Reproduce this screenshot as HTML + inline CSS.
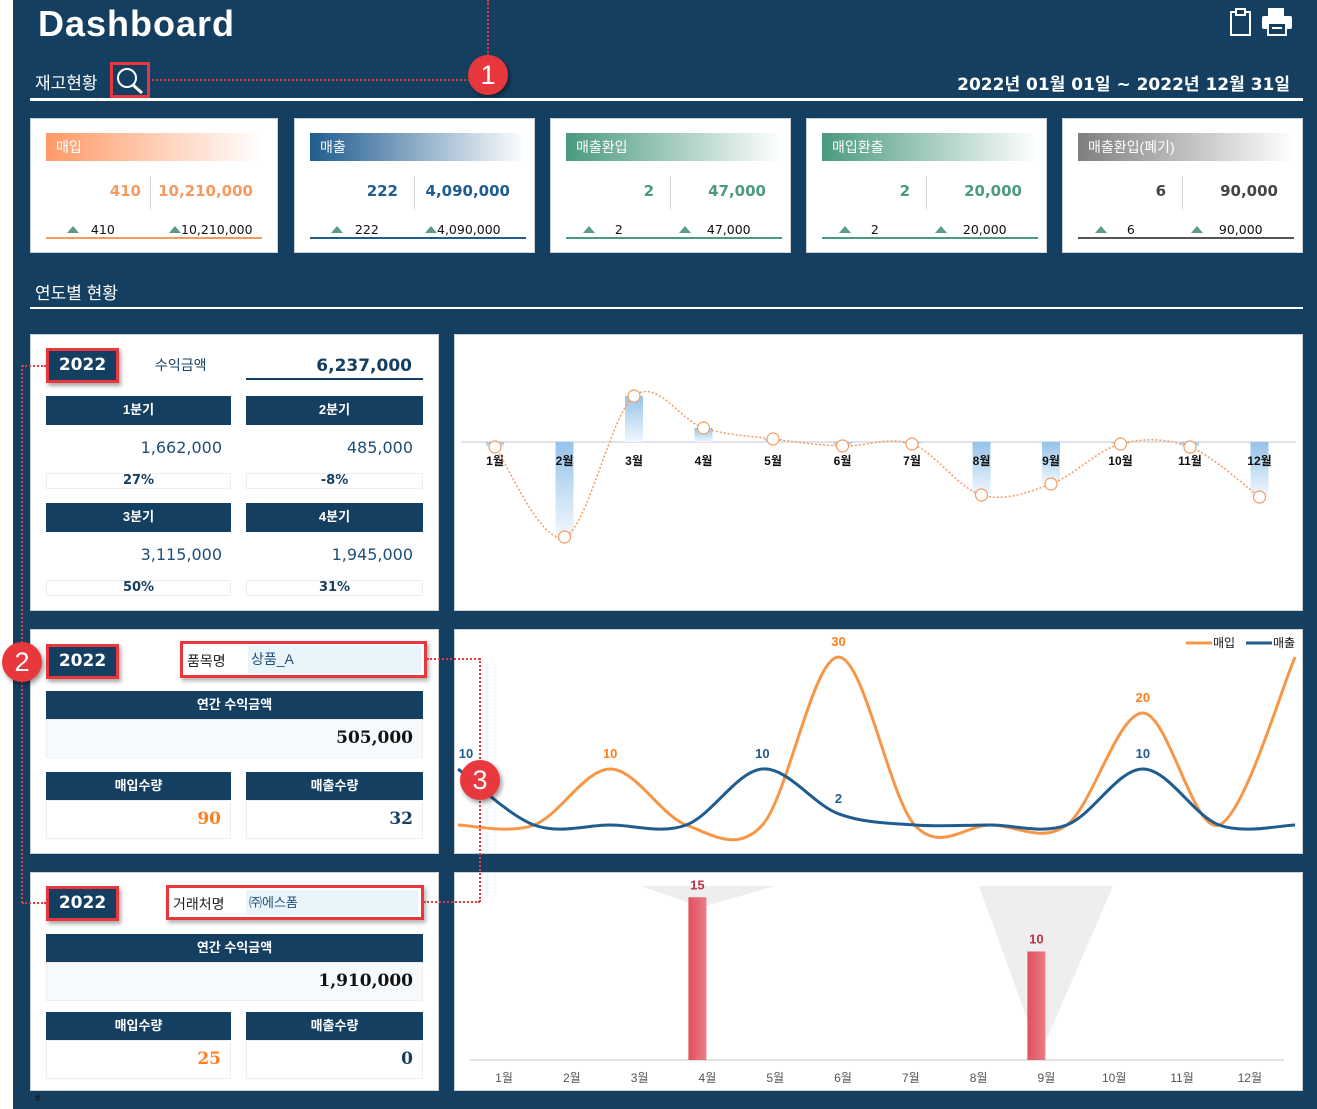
<!DOCTYPE html>
<html><head><meta charset="utf-8">
<style>
*{margin:0;padding:0;box-sizing:border-box}
body{width:1317px;height:1109px;background:#fff;position:relative;overflow:hidden;font-family:"Liberation Sans","Noto Sans CJK KR",sans-serif}
.bg{position:absolute;left:13px;top:0;width:1304px;height:1109px;background:#153f61}
.a{position:absolute}
.card{position:absolute;background:#fff;border:1px solid #c9d2da}
.hd{position:absolute;left:15px;top:14px;height:28px;width:216px;color:#fff;font-size:14px;line-height:28px;padding-left:10px}
.num{font-family:"DejaVu Sans","Noto Sans CJK KR",sans-serif;font-weight:bold}
.v1,.v2{position:absolute;top:63px;font-size:15px;text-align:right}
.dv{position:absolute;left:119px;top:57px;width:1px;height:33px;background:#d5d5d5}
.bt{position:absolute;top:103px;font-size:12.5px;color:#111;font-family:"DejaVu Sans",sans-serif}
.tri{display:inline-block;width:0;height:0;border-left:6px solid transparent;border-right:6px solid transparent;border-bottom:7px solid #5a9b82;vertical-align:1px}
.ln{position:absolute;left:15px;top:118px;width:216px;height:1.5px}
.panel{position:absolute;background:#fff;border:1px solid #c9d2da}
.dk{position:absolute;background:#153f61;color:#fff;font-size:13px;font-weight:bold;text-align:center}
.yr{position:absolute;background:#153f61;color:#fff;font-size:17px;text-align:center;border:3px solid #e8383d;box-shadow:2px 3px 4px rgba(0,0,0,.35);font-family:"DejaVu Sans",sans-serif;font-weight:bold}
.pc{position:absolute;border:1px solid #eee;font-size:13px;text-align:center;color:#153f61;font-weight:bold;font-family:"DejaVu Sans",sans-serif;line-height:14px}
.qv{position:absolute;font-size:16px;color:#1f4e79;text-align:right;font-family:"DejaVu Sans",sans-serif}
.vb{position:absolute;border:1px solid #eee;background:#fff}
.circ{position:absolute;width:40px;height:40px;border-radius:50%;background:#e8383d;color:#fff;font-size:27px;text-align:center;line-height:40px;box-shadow:2px 3px 5px rgba(0,0,0,.4)}
.dotH{position:absolute;height:0;border-top:2px dotted #e8383d}
.dotV{position:absolute;width:0;border-left:2px dotted #e8383d}
</style></head><body>
<div class="bg"></div>
<div class="a" style="left:38px;top:3px;color:#fff;font-size:36px;font-weight:bold;letter-spacing:1px;">Dashboard</div>
<svg class="a" style="left:1229px;top:8px" width="24" height="28" viewBox="0 0 24 28"><rect x="2" y="4" width="19" height="23" fill="none" stroke="#fff" stroke-width="2"/><rect x="7" y="1" width="9" height="6" fill="#153f61" stroke="#fff" stroke-width="2"/></svg>
<svg class="a" style="left:1261px;top:7px" width="32" height="29" viewBox="0 0 32 29"><rect x="7" y="1" width="16" height="9" fill="#fff"/><rect x="1" y="9" width="30" height="13" rx="2" fill="#fff"/><rect x="7" y="16" width="18" height="12" fill="#153f61" stroke="#fff" stroke-width="2"/><line x1="11" y1="21" x2="21" y2="21" stroke="#fff" stroke-width="2"/></svg>
<div class="a" style="left:35px;top:69px;color:#fff;font-size:17px">재고현황</div>
<div class="a" style="left:110px;top:62px;width:40px;height:36px;border:3px solid #e8383d;">
<svg width="34" height="30" viewBox="0 0 34 30"><circle cx="14" cy="13" r="9" fill="none" stroke="#fff" stroke-width="2"/><line x1="20" y1="20" x2="29" y2="28" stroke="#fff" stroke-width="3"/></svg></div>
<div class="dotH" style="left:152px;top:79px;width:318px"></div>
<div class="dotV" style="left:487px;top:0;height:56px"></div>
<div class="circ" style="left:468px;top:55px">1</div>
<div class="a" style="right:27px;top:70px;color:#fff;font-size:17px;font-weight:bold;font-family:'DejaVu Sans','Noto Sans CJK KR',sans-serif">2022년 01월 01일 ~ 2022년 12월 31일</div>
<div class="a" style="left:30px;top:98px;width:1273px;height:3px;background:#fff"></div>

<!-- KPI cards -->
<div class="card" style="left:30px;top:118px;width:248px;height:135px">
 <div class="hd" style="background:linear-gradient(90deg,#ff9a66,#fff)">매입</div>
 <div class="v1 num" style="right:136px;color:#f79a60">410</div>
 <div class="dv"></div>
 <div class="v2 num" style="right:24px;color:#f79a60">10,210,000</div>
 <div class="bt" style="left:36px"><span class="tri"></span>&nbsp;&nbsp;&nbsp;410</div>
 <div class="bt" style="left:138px"><span class="tri"></span>10,210,000</div>
 <div class="ln" style="background:#f79a60"></div>
</div>
<div class="card" style="left:294px;top:118px;width:241px;height:135px">
 <div class="hd" style="background:linear-gradient(90deg,#1f5c8f,#fff)">매출</div>
 <div class="v1 num" style="right:136px;color:#1f5c8f">222</div>
 <div class="dv"></div>
 <div class="v2 num" style="right:24px;color:#1f5c8f">4,090,000</div>
 <div class="bt" style="left:36px"><span class="tri"></span>&nbsp;&nbsp;&nbsp;222</div>
 <div class="bt" style="left:130px"><span class="tri"></span>4,090,000</div>
 <div class="ln" style="background:#1f5c8f"></div>
</div>
<div class="card" style="left:550px;top:118px;width:241px;height:135px">
 <div class="hd" style="background:linear-gradient(90deg,#4a9a7e,#fff)">매출환입</div>
 <div class="v1 num" style="right:136px;color:#4a9a7e">2</div>
 <div class="dv"></div>
 <div class="v2 num" style="right:24px;color:#4a9a7e">47,000</div>
 <div class="bt" style="left:32px"><span class="tri"></span>&nbsp;&nbsp;&nbsp;&nbsp;&nbsp;2</div>
 <div class="bt" style="left:128px"><span class="tri"></span>&nbsp;&nbsp;&nbsp;&nbsp;47,000</div>
 <div class="ln" style="background:#4a9a7e"></div>
</div>
<div class="card" style="left:806px;top:118px;width:241px;height:135px">
 <div class="hd" style="background:linear-gradient(90deg,#4a9a7e,#fff)">매입환출</div>
 <div class="v1 num" style="right:136px;color:#4a9a7e">2</div>
 <div class="dv"></div>
 <div class="v2 num" style="right:24px;color:#4a9a7e">20,000</div>
 <div class="bt" style="left:32px"><span class="tri"></span>&nbsp;&nbsp;&nbsp;&nbsp;&nbsp;2</div>
 <div class="bt" style="left:128px"><span class="tri"></span>&nbsp;&nbsp;&nbsp;&nbsp;20,000</div>
 <div class="ln" style="background:#4a9a7e"></div>
</div>
<div class="card" style="left:1062px;top:118px;width:241px;height:135px">
 <div class="hd" style="background:linear-gradient(90deg,#7f7f7f,#fff)">매출환입(폐기)</div>
 <div class="v1 num" style="right:136px;color:#444">6</div>
 <div class="dv"></div>
 <div class="v2 num" style="right:24px;color:#444">90,000</div>
 <div class="bt" style="left:32px"><span class="tri"></span>&nbsp;&nbsp;&nbsp;&nbsp;&nbsp;6</div>
 <div class="bt" style="left:128px"><span class="tri"></span>&nbsp;&nbsp;&nbsp;&nbsp;90,000</div>
 <div class="ln" style="background:#555"></div>
</div>

<div class="a" style="left:35px;top:279px;color:#fff;font-size:17px">연도별 현황</div>
<div class="a" style="left:30px;top:307px;width:1273px;height:2px;background:#fff"></div>

<!-- Panel 1 -->
<div class="panel" style="left:30px;top:334px;width:409px;height:277px"></div>
<div class="yr" style="left:46px;top:348px;width:73px;height:35px;line-height:29px">2022</div>
<div class="a" style="left:155px;top:355px;font-size:14px;color:#153f61">수익금액</div>
<div class="a num" style="right:905px;top:356px;font-size:17px;color:#153f61">6,237,000</div>
<div class="a" style="left:246px;top:378px;width:177px;height:2px;background:#153f61"></div>
<div class="dk" style="left:46px;top:396px;width:185px;height:29px;line-height:28px">1분기</div>
<div class="dk" style="left:246px;top:396px;width:177px;height:29px;line-height:28px">2분기</div>
<div class="qv" style="right:1095px;top:438px">1,662,000</div>
<div class="qv" style="right:904px;top:438px">485,000</div>
<div class="pc" style="left:46px;top:473px;width:185px;height:16px">27%</div>
<div class="pc" style="left:246px;top:473px;width:177px;height:16px">-8%</div>
<div class="dk" style="left:46px;top:503px;width:185px;height:29px;line-height:28px">3분기</div>
<div class="dk" style="left:246px;top:503px;width:177px;height:29px;line-height:28px">4분기</div>
<div class="qv" style="right:1095px;top:545px">3,115,000</div>
<div class="qv" style="right:904px;top:545px">1,945,000</div>
<div class="pc" style="left:46px;top:580px;width:185px;height:16px">50%</div>
<div class="pc" style="left:246px;top:580px;width:177px;height:16px">31%</div>

<!-- Panel 2 -->
<div class="panel" style="left:30px;top:629px;width:409px;height:225px"></div>
<div class="yr" style="left:46px;top:644px;width:73px;height:35px;line-height:29px">2022</div>
<div class="a" style="left:180px;top:641px;width:247px;height:37px;border:3px solid #e8383d;box-shadow:2px 3px 4px rgba(0,0,0,.3);background:#fff">
 <div class="a" style="left:4px;top:7px;font-size:14px;color:#222">품목명</div>
 <div class="a" style="left:65px;top:2px;width:173px;height:27px;background:#eaf4fb;font-size:14px;color:#1f4e79;line-height:27px;padding-left:3px">상품_A</div>
</div>
<div class="dk" style="left:46px;top:691px;width:377px;height:28px;line-height:27px">연간 수익금액</div>
<div class="vb" style="left:46px;top:719px;width:377px;height:39px;background:#f7fafc"></div>
<div class="a" style="right:904px;top:728px;font-size:17px;font-weight:bold;font-family:'DejaVu Serif',serif;color:#111">505,000</div>
<div class="dk" style="left:46px;top:772px;width:185px;height:28px;line-height:27px">매입수량</div>
<div class="dk" style="left:246px;top:772px;width:177px;height:28px;line-height:27px">매출수량</div>
<div class="vb" style="left:46px;top:800px;width:185px;height:39px"></div>
<div class="vb" style="left:246px;top:800px;width:177px;height:39px"></div>
<div class="a" style="right:1096px;top:809px;font-size:17px;font-weight:bold;font-family:'DejaVu Serif',serif;color:#ff7f1e">90</div>
<div class="a" style="right:904px;top:809px;font-size:17px;font-weight:bold;font-family:'DejaVu Serif',serif;color:#153f61">32</div>

<!-- Panel 3 -->
<div class="panel" style="left:30px;top:872px;width:409px;height:219px"></div>
<div class="yr" style="left:46px;top:886px;width:73px;height:35px;line-height:29px">2022</div>
<div class="a" style="left:166px;top:885px;width:258px;height:35px;border:3px solid #e8383d;box-shadow:2px 3px 4px rgba(0,0,0,.3);background:#fff">
 <div class="a" style="left:4px;top:6px;font-size:14px;color:#222">거래처명</div>
 <div class="a" style="left:77px;top:2px;width:172px;height:25px;background:#eaf4fb;font-size:13px;color:#1f4e79;line-height:25px;padding-left:3px">㈜에스폼</div>
</div>
<div class="dk" style="left:46px;top:934px;width:377px;height:28px;line-height:27px">연간 수익금액</div>
<div class="vb" style="left:46px;top:962px;width:377px;height:39px;background:#f7fafc"></div>
<div class="a" style="right:904px;top:971px;font-size:17px;font-weight:bold;font-family:'DejaVu Serif',serif;color:#111">1,910,000</div>
<div class="dk" style="left:46px;top:1012px;width:185px;height:28px;line-height:27px">매입수량</div>
<div class="dk" style="left:246px;top:1012px;width:177px;height:28px;line-height:27px">매출수량</div>
<div class="vb" style="left:46px;top:1040px;width:185px;height:39px"></div>
<div class="vb" style="left:246px;top:1040px;width:177px;height:39px"></div>
<div class="a" style="right:1096px;top:1049px;font-size:17px;font-weight:bold;font-family:'DejaVu Serif',serif;color:#ff7f1e">25</div>
<div class="a" style="right:904px;top:1049px;font-size:17px;font-weight:bold;font-family:'DejaVu Serif',serif;color:#153f61">0</div>
<div class="a" style="left:35px;top:1093px;font-size:10px;color:#111">#</div>

<!-- Chart panels -->
<div class="panel" style="left:454px;top:334px;width:849px;height:277px"></div>
<div class="panel" style="left:454px;top:629px;width:849px;height:225px"></div>
<div class="panel" style="left:454px;top:872px;width:849px;height:219px"></div>
<svg id="charts" class="a" style="left:0;top:0" width="1317" height="1109">
<defs>
<linearGradient id="gb" x1="0" y1="0" x2="0" y2="1"><stop offset="0" stop-color="#94c3ea"/><stop offset="1" stop-color="#f2f8fd"/></linearGradient>
<linearGradient id="gr" x1="0" y1="0" x2="1" y2="0"><stop offset="0" stop-color="#e0505e"/><stop offset="1" stop-color="#ea7d85"/></linearGradient>
</defs>
</svg>

<!-- callouts -->
<div class="dotH" style="left:22px;top:365px;width:24px"></div>
<div class="dotV" style="left:21px;top:365px;height:538px"></div>
<div class="dotH" style="left:22px;top:902px;width:24px"></div>
<div class="circ" style="left:2px;top:642px">2</div>
<div class="dotH" style="left:427px;top:658px;width:53px"></div>
<div class="dotV" style="left:479px;top:658px;height:244px"></div>
<div class="dotH" style="left:424px;top:901px;width:56px"></div>
<div class="circ" style="left:460px;top:760px">3</div>

<script>
const months=['1월','2월','3월','4월','5월','6월','7월','8월','9월','10월','11월','12월'];
const profitByMonth=[-50,-950,460,140,30,-40,-20,-530,-420,-20,-50,-550];
const purchaseQty=[0,0,10,0,0,30,0,0,0,20,0,30];
const salesQty=[10,0,0,0,10,2,0,0,0,10,0,0];
const customerQty=[0,0,0,15,0,0,0,0,10,0,0,0];
const NS='http://www.w3.org/2000/svg';
const svg=document.getElementById('charts');
function mk(tag,attrs,parent){const e=document.createElementNS(NS,tag);for(const k in attrs)e.setAttribute(k,attrs[k]);(parent||svg).appendChild(e);return e;}
function spline(pts){let d='M'+pts[0][0]+','+pts[0][1];for(let i=0;i<pts.length-1;i++){const p0=pts[Math.max(0,i-1)],p1=pts[i],p2=pts[i+1],p3=pts[Math.min(pts.length-1,i+2)];const c1x=p1[0]+(p2[0]-p0[0])/6,c1y=p1[1]+(p2[1]-p0[1])/6,c2x=p2[0]-(p3[0]-p1[0])/6,c2y=p2[1]-(p3[1]-p1[1])/6;d+=' C'+c1x+','+c1y+' '+c2x+','+c2y+' '+p2[0]+','+p2[1];}return d;}

// Chart 1
const x1=i=>495+i*69.5, y1=v=>442-v*0.1;
const ax1=mk('line',{x1:461,x2:1296,y1:442,y2:442,stroke:'#d8d8e4','stroke-width':1.5});


profitByMonth.forEach((v,i)=>{
 const top=Math.min(y1(v),442),h=Math.abs(y1(v)-442);
 const b=mk('rect',{x:x1(i)-9,y:top,width:18,height:Math.max(h,2),fill:'url(#gb)'});
 
 
 const t=mk('text',{x:x1(i),y:465,'text-anchor':'middle','font-size':12,'font-weight':'bold',fill:'#111'});
 t.textContent=months[i];
 
 
});
const p1=mk('path',{d:spline(profitByMonth.map((v,i)=>[x1(i),y1(v)])),fill:'none',stroke:'#f79a60','stroke-width':1.5,'stroke-dasharray':'2,2'});


profitByMonth.forEach((v,i)=>{
 const c=mk('circle',{cx:x1(i),cy:y1(v),r:6,fill:'#fff',stroke:'#f79a60','stroke-width':1.2});
 
 
});

// Chart 2
const x2=i=>458+i*76.1, y2=v=>825-v*5.6;
const lo=mk('path',{d:spline(purchaseQty.map((v,i)=>[x2(i),y2(v)])),fill:'none',stroke:'#f79646','stroke-width':3});


const lb=mk('path',{d:spline(salesQty.map((v,i)=>[x2(i),y2(v)])),fill:'none',stroke:'#1f5c8f','stroke-width':3});


purchaseQty.forEach((v,i)=>{if(v>0&&i<11){const t=mk('text',{x:x2(i),y:y2(v)-11,'text-anchor':'middle','font-size':13,'font-weight':'bold',fill:'#ff7f1e'});t.textContent=v;
 
 }});
salesQty.forEach((v,i)=>{if(v>0){const t=mk('text',{x:Math.max(x2(i),466),y:y2(v)-11,'text-anchor':'middle','font-size':13,'font-weight':'bold',fill:'#1f5c8f'});t.textContent=v;
 
 }});
const lg=mk('g',{});


mk('line',{x1:1186,x2:1212,y1:643,y2:643,stroke:'#f79646','stroke-width':3},lg);
const lt1=mk('text',{x:1213,y:647,'font-size':12,fill:'#111'},lg);lt1.textContent='매입';
mk('line',{x1:1246,x2:1272,y1:643,y2:643,stroke:'#1f5c8f','stroke-width':3},lg);
const lt2=mk('text',{x:1273,y:647,'font-size':12,fill:'#111'},lg);lt2.textContent='매출';

// Chart 3
const x3=i=>504+i*67.8, y3=v=>1060-v*10.85;
const barOff=-10;
const tr1=mk('polygon',{points:'640,886 775,886 702,907',fill:'#eeeeee'});


const tr2=mk('polygon',{points:'979,886 1113,886 1040,1055',fill:'#eeeeee'});


const ax3=mk('line',{x1:470,x2:1284,y1:1060,y2:1060,stroke:'#d9d9d9','stroke-width':1.5});


customerQty.forEach((v,i)=>{
 const t=mk('text',{x:x3(i),y:1082,'text-anchor':'middle','font-size':12,fill:'#555'});
 t.textContent=months[i];
 
 
 if(v>0){
  const b=mk('rect',{x:x3(i)+barOff-9,y:y3(v),width:18,height:1060-y3(v),fill:'url(#gr)'});
  
  
  const l=mk('text',{x:x3(i)+barOff,y:y3(v)-8,'text-anchor':'middle','font-size':13,'font-weight':'bold',fill:'#c0304a'});
  l.textContent=v;
  
  
 }
});
</script>
</body></html>
